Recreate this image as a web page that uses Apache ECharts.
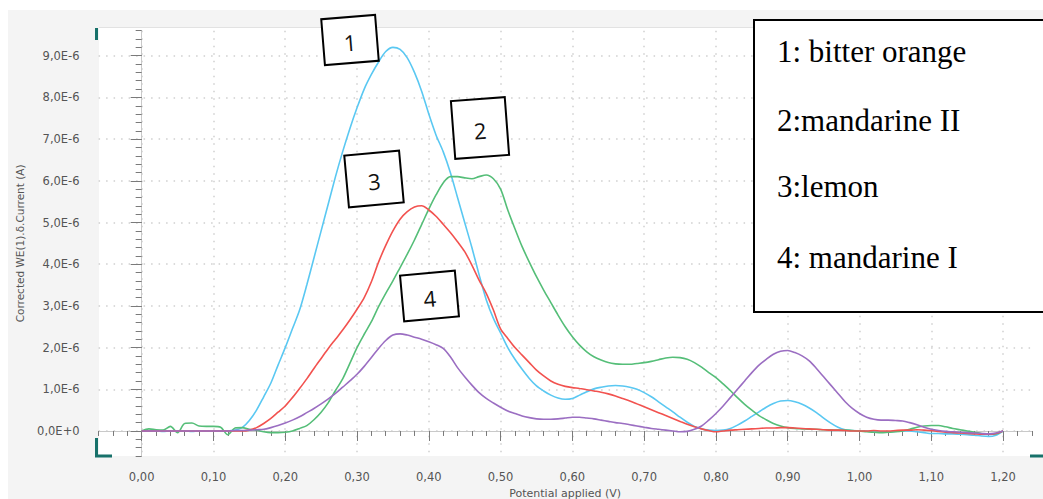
<!DOCTYPE html>
<html>
<head>
<meta charset="utf-8">
<script src="https://cdn.jsdelivr.net/npm/echarts@6/dist/echarts.min.js"></script>
<style>
  html, body { margin: 0; padding: 0; background: #fff; }
  #wrap { position: relative; width: 1043px; height: 499px; }
  #paper { position: absolute; left: 8px; top: 10px; right: 0; bottom: 0; background: #f4f4f4; }
  #chart { position: absolute; left: 0; top: 0; width: 1043px; height: 499px; }
</style>
</head>
<body>
<div id="wrap"><div id="paper"></div><div id="chart"></div></div>
<script>
// potential (V), sampled every 0.01 V from 0.00 to 1.20
const potential = Array.from({ length: 121 }, (_, i) => +(i / 100).toFixed(2));

// current in units of 1E-6 A
const bitterOrange = [
  0, 0, 0, -0.01, 0, 0, 0, -0.01, 0, 0,
  0, 0, 0, 0.02, 0.08, 0.25, 0.5, 0.82, 1.15, 1.58,
  2.0, 2.45, 2.9, 3.5, 4.15, 4.8, 5.45, 6.1, 6.7, 7.25,
  7.75, 8.2, 8.55, 8.85, 9.1, 9.2, 9.15, 8.95, 8.6, 8.15,
  7.6, 7.1, 6.7, 6.2, 5.6, 5.0, 4.4, 3.75, 3.15, 2.7,
  2.35, 2.0, 1.72, 1.48, 1.26, 1.08, 0.96, 0.86, 0.79, 0.76,
  0.78, 0.86, 0.94, 1.01, 1.05, 1.08, 1.09, 1.08, 1.05, 1.0,
  0.92, 0.82, 0.7, 0.58, 0.46, 0.33, 0.21, 0.11, 0.05, 0.02,
  0.01, 0.02, 0.06, 0.14, 0.24, 0.35, 0.46, 0.57, 0.66, 0.72,
  0.73, 0.7, 0.64, 0.55, 0.44, 0.31, 0.19, 0.09, 0.03, 0.01,
  0, 0, -0.01, -0.02, -0.02, -0.01, 0, 0, -0.02, -0.04,
  -0.06, -0.06, -0.07, -0.07, -0.08, -0.09, -0.1, -0.12, -0.13, -0.1,
  0
];
const mandarineII = [
  0, 0.05, 0.03, 0.02, 0.11, -0.04, 0.18, 0.19, 0.12, 0.11,
  0.11, 0.09, -0.09, 0.07, 0.08, 0.04, 0.02, -0.02, -0.04, -0.04,
  -0.03, 0.0, 0.06, 0.13, 0.27, 0.45, 0.68, 0.97, 1.25, 1.62,
  2.0, 2.32, 2.62, 2.98, 3.3, 3.6, 3.92, 4.24, 4.58, 4.95,
  5.32, 5.66, 5.95, 6.1, 6.1, 6.07, 6.05, 6.1, 6.14, 6.05,
  5.8, 5.3, 4.85, 4.42, 4.05, 3.7, 3.38, 3.08, 2.78, 2.5,
  2.26, 2.06, 1.9, 1.78, 1.7, 1.64, 1.61, 1.6, 1.6, 1.62,
  1.64, 1.67, 1.71, 1.75, 1.77, 1.76, 1.72, 1.64, 1.53, 1.4,
  1.28, 1.13, 0.97, 0.8, 0.64, 0.5, 0.37, 0.27, 0.18, 0.12,
  0.08, 0.06, 0.05, 0.04, 0.04, 0.03, 0.03, 0.02, 0.02, 0.01,
  0.0, -0.02, -0.03, -0.04, -0.03, -0.02, 0.0, 0.04, 0.09, 0.12,
  0.13, 0.13, 0.1, 0.06, 0.03, 0.0, -0.03, -0.06, -0.08, -0.07,
  0
];
const lemon = [
  0, 0, 0, 0, 0, 0, 0, 0, 0, 0,
  0, 0, 0, 0, 0, 0.02, 0.08, 0.18, 0.3, 0.45,
  0.6, 0.8, 1.02, 1.25, 1.5, 1.74, 1.98, 2.2, 2.42, 2.66,
  2.92, 3.2, 3.58, 4.05, 4.45, 4.8, 5.08, 5.26, 5.37, 5.4,
  5.3, 5.15, 4.96, 4.76, 4.54, 4.3, 3.98, 3.62, 3.3, 2.9,
  2.45, 2.22, 2.0, 1.82, 1.64, 1.46, 1.32, 1.2, 1.12, 1.07,
  1.04, 1.02, 0.99, 0.96, 0.93, 0.89, 0.84, 0.78, 0.72, 0.65,
  0.58, 0.51, 0.44, 0.37, 0.3, 0.23, 0.16, 0.1, 0.05, 0.01,
  -0.02, 0.0, 0.02, 0.03, 0.04, 0.05, 0.06, 0.07, 0.07, 0.08,
  0.08, 0.07, 0.06, 0.05, 0.04, 0.03, 0.02, 0.02, 0.01, 0,
  0, 0, 0.01, 0, 0, 0.01, 0.02, 0.02, 0.03, 0.02,
  0.01, -0.01, -0.03, -0.04, -0.05, -0.06, -0.07, -0.08, -0.08, -0.06,
  0
];
const mandarineI = [
  0, 0, 0, 0, 0, 0, 0, 0, 0, 0,
  0, 0, 0, 0.01, 0.01, 0.02, 0.03, 0.04, 0.08, 0.13,
  0.19, 0.26, 0.34, 0.44, 0.54, 0.65, 0.77, 0.9, 1.05, 1.2,
  1.36, 1.55, 1.76, 1.98, 2.17, 2.3, 2.33, 2.3, 2.25, 2.2,
  2.14, 2.07, 1.98, 1.78, 1.52, 1.3, 1.1, 0.92, 0.78, 0.67,
  0.57, 0.48, 0.42, 0.36, 0.32, 0.29, 0.28, 0.28, 0.29, 0.31,
  0.33, 0.33, 0.31, 0.29, 0.26, 0.23, 0.2, 0.18, 0.15, 0.12,
  0.09, 0.06, 0.04, 0.02, 0.0, -0.02, -0.01, 0.04, 0.12, 0.26,
  0.42, 0.6, 0.8, 1.0, 1.2, 1.4, 1.58, 1.72, 1.84, 1.91,
  1.93, 1.88, 1.8, 1.68, 1.5, 1.3, 1.1, 0.9, 0.7, 0.54,
  0.42, 0.33, 0.28, 0.26, 0.26, 0.25, 0.24, 0.2, 0.15, 0.09,
  0.04, 0.01, -0.01, -0.02, -0.03, -0.04, -0.05, -0.06, -0.07, -0.05,
  0
];

const seriesNames = ['1: bitter orange', '2:mandarine II', '3:lemon', '4: mandarine I'];
const seriesColors = ['#5ac8f2', '#55be78', '#f2524f', '#9b6ec2'];
const seriesValues = [bitterOrange, mandarineII, lemon, mandarineI];
const peakLabels = ['1', '2', '3', '4'];

const xTickValues = [0, 0.1, 0.2, 0.3, 0.4, 0.5, 0.6, 0.7, 0.8, 0.9, 1.0, 1.1, 1.2];
const yTickValues = [0, 1, 2, 3, 4, 5, 6, 7, 8, 9];

const chart = echarts.init(document.getElementById('chart'), null, { renderer: 'svg' });

const labelFont = { fontFamily: 'DejaVu Sans', fontSize: 11.5, color: '#555' };
const dotted = { color: '#cfcfcf', width: 1.5, type: [1.5, 6] };

const fmtX = v => v.toFixed(2).replace('.', ',');
const fmtY = v => (Math.abs(v) < 1e-9 ? '0,0E+0' : v.toFixed(1).replace('.', ',') + 'E-6');

// annotation boxes: [centre x, centre y, width, height, rotation]
const boxes = [
  [350, 40, 54, 46, 0.08],
  [480, 128, 54, 58, 0.075],
  [374, 179, 55, 52, 0.09],
  [429.5, 296, 55, 46, 0.09]
];

const teal = { stroke: '#17716a', lineWidth: 3 };

const option = {
  animation: false,
  grid: { left: 98.6, right: 11.2, top: 30.7, bottom: 43, outerBoundsMode: 'none', containLabel: false },
  xAxis: [
    {
      type: 'value', min: -0.06, max: 1.24, interval: 0.02, position: 'bottom',
      axisLine: { show: true, lineStyle: { color: '#c9c9c9' } },
      axisTick: { show: true, length: 5, lineStyle: { color: '#7a7a7a' } },
      axisLabel: { show: false },
      splitLine: { show: false }
    },
    {
      type: 'value', min: -0.06, max: 1.24, position: 'bottom',
      axisLine: { show: false },
      axisTick: { show: true, customValues: xTickValues, length: 10, lineStyle: { color: '#7a7a7a' } },
      axisLabel: Object.assign({ customValues: xTickValues, formatter: fmtX, margin: 15 }, labelFont),
      splitLine: { show: true, lineStyle: dotted },
      name: 'Potential applied (V)', nameLocation: 'middle', nameGap: 30,
      nameTextStyle: { fontFamily: 'DejaVu Sans', fontSize: 11, color: '#555' }
    }
  ],
  yAxis: [
    {
      type: 'value', min: -0.6, max: 9.6, interval: 0.2, position: 'left',
      axisLine: { show: true, lineStyle: { color: '#c9c9c9' } },
      axisTick: { show: true, length: 6, lineStyle: { color: '#7a7a7a' } },
      axisLabel: { show: false },
      splitLine: { show: false }
    },
    {
      type: 'value', min: -0.6, max: 9.6, position: 'left',
      axisLine: { show: false },
      axisTick: { show: true, customValues: yTickValues, length: 11, lineStyle: { color: '#7a7a7a' } },
      axisLabel: Object.assign({ customValues: yTickValues, formatter: fmtY, margin: 19 }, labelFont),
      splitLine: { show: true, lineStyle: dotted },
      name: 'Corrected WE(1).\u03b4.Current (A)', nameLocation: 'middle', nameGap: 73,
      nameTextStyle: { fontFamily: 'DejaVu Sans', fontSize: 10.5, color: '#555' }
    }
  ],
  series: seriesValues.map((vals, k) => ({
    name: seriesNames[k],
    type: 'line',
    xAxisIndex: 0,
    yAxisIndex: 0,
    data: potential.map((x, i) => [x, vals[i]]),
    smooth: 0.3,
    showSymbol: false,
    lineStyle: { color: seriesColors[k], width: 1.6 },
    itemStyle: { color: seriesColors[k] },
    z: 3
  })),
  graphic: [
    { type: 'rect', z: -10, shape: { x: 99, y: 28, width: 944, height: 428 }, style: { fill: '#fff' } },
    { type: 'line', z: -9, shape: { x1: 99, y1: 27.5, x2: 1043, y2: 27.5 }, style: { stroke: '#e2e2e2', lineWidth: 1 } },
    { type: 'line', z: 5, shape: { x1: 96.5, y1: 28, x2: 96.5, y2: 40 }, style: teal },
    { type: 'polyline', z: 5, shape: { points: [[96.5, 438], [96.5, 456], [112, 456]] }, style: Object.assign({ fill: null }, teal) },
    { type: 'line', z: 5, shape: { x1: 1030, y1: 456, x2: 1043, y2: 456 }, style: teal },
    ...boxes.map((b, k) => ({
      type: 'group', x: b[0], y: b[1], rotation: b[4], z: 20,
      children: [
        { type: 'rect', z: 20, shape: { x: -b[2] / 2, y: -b[3] / 2, width: b[2], height: b[3] },
          style: { fill: '#fff', stroke: '#000', lineWidth: 2 } },
        { type: 'text', z: 21, x: 0, y: 2,
          style: { text: peakLabels[k], fontFamily: 'Open Sans', fontSize: 22, fill: '#111',
                   align: 'center', verticalAlign: 'middle' } }
      ]
    })),
    { type: 'rect', z: 20, shape: { x: 754, y: 20, width: 300, height: 292 },
      style: { fill: '#fff', stroke: '#000', lineWidth: 2 } },
    ...seriesNames.map((n, k) => ({
      type: 'text', z: 21, x: 777, y: [51.5, 120.5, 186.5, 257.5][k],
      style: { text: n, fontFamily: 'Liberation Serif', fontSize: 31, fill: '#000',
               align: 'left', verticalAlign: 'middle' }
    }))
  ]
};

chart.setOption(option);
</script>
</body>
</html>
